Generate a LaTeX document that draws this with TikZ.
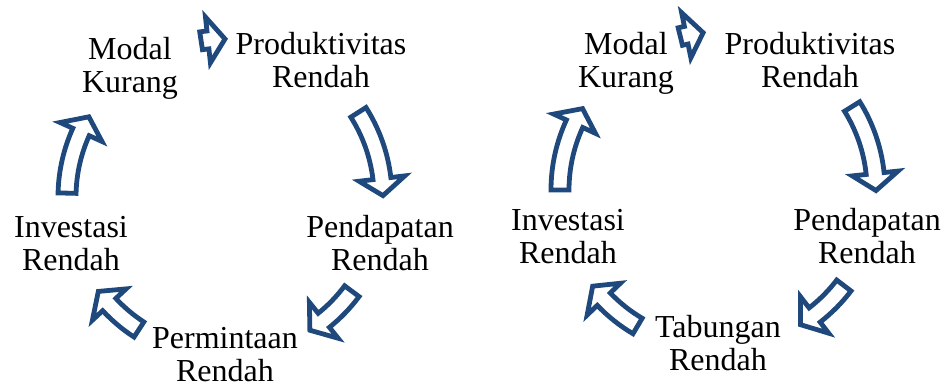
\documentclass[tikz,border=0pt]{standalone}
\usepackage{fontspec}
\setmainfont{Liberation Serif}
\definecolor{arrowblue}{HTML}{1F497D}

% block arrow bent along the cycle: #1 centre, #2 tail angle, #3 tip angle
\newcommand\cyclearrow[3]{%
  \pgfmathsetmacro\neckang{#3+\headang}
  \draw[cyclearr,shift={(#1)}]
    (#2:\rout) arc[start angle=#2,end angle=\neckang,radius=\rout]
    -- (\neckang:\rhout) -- (#3:\rad) -- (\neckang:\rhin)
    -- (\neckang:\rin) arc[start angle=\neckang,end angle=#2,radius=\rin]
    -- cycle;}

\begin{document}
\begin{tikzpicture}[x=1pt,y=1pt,
    cycletext/.style={font=\fontsize{32}{33}\selectfont,align=center,
                      anchor=base,inner sep=0pt},
    cyclearr/.style={draw=arrowblue,fill=white,line width=4.8pt}]
  \useasboundingbox (0,0) rectangle (952,385);
  \def\rad{158}
  \def\rout{167}
  \def\rin{149}
  \def\rhout{181}
  \def\rhin{135}
  \def\headang{6.2}

  % left cycle (node base = last line)
  \coordinate (cA) at (225,188);
  \node[cycletext] (modalA) at (130,292) {Modal\\Kurang};
  \node[cycletext] (prodA) at (321,297) {Produktivitas\\Rendah};
  \node[cycletext] (pendA) at (380,114) {Pendapatan\\Rendah};
  \node[cycletext] (mintaA) at (225,3) {Permintaan\\Rendah};
  \node[cycletext] (invA) at (71,114) {Investasi\\Rendah};
  \cyclearrow{cA}{98.7}{90}
  \cyclearrow{cA}{32.4}{0.5}
  \cyclearrow{cA}{-36.6}{-57.5}
  \cyclearrow{cA}{-123}{-143.3}
  \cyclearrow{cA}{178.6}{149.5}

  % right cycle
  \coordinate (cB) at (718,195);
  \node[cycletext] (modalB) at (626,297) {Modal\\Kurang};
  \node[cycletext] (prodB) at (810,297) {Produktivitas\\Rendah};
  \node[cycletext] (pendB) at (867,121) {Pendapatan\\Rendah};
  \node[cycletext] (tabB) at (718,14) {Tabungan\\Rendah};
  \node[cycletext] (invB) at (568,121) {Investasi\\Rendah};
  \cyclearrow{cB}{103.8}{95.4}
  \cyclearrow{cB}{31.9}{-0.2}
  \cyclearrow{cB}{-37.2}{-58.5}
  \cyclearrow{cB}{-120.6}{-142.5}
  \cyclearrow{cB}{180}{149}
\end{tikzpicture}
\end{document}
